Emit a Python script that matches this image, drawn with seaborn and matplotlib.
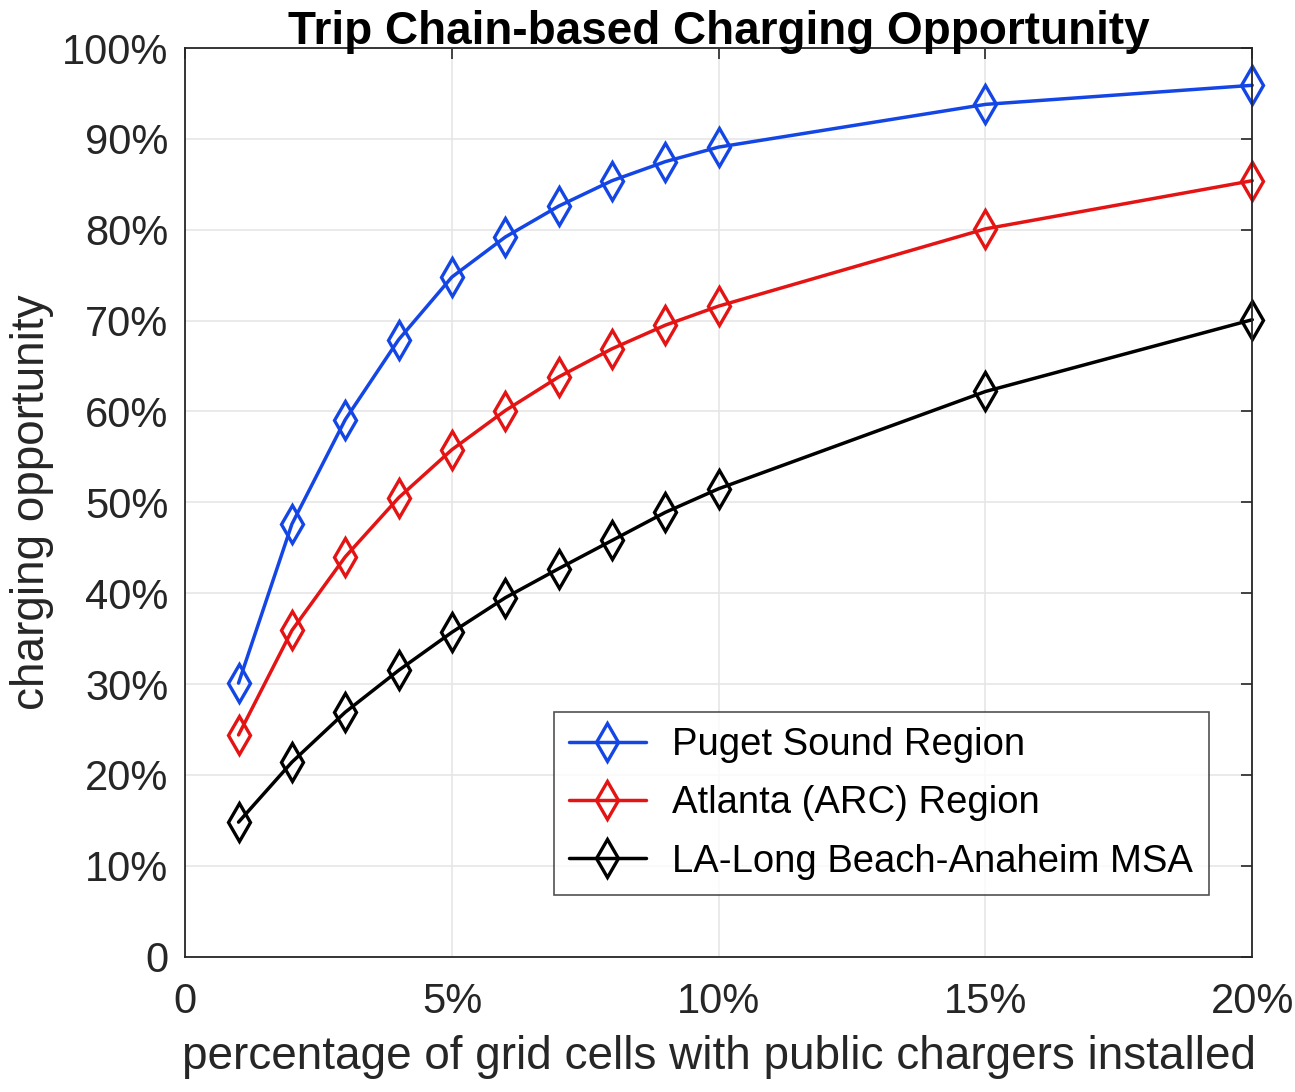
import matplotlib
matplotlib.use("Agg")
import matplotlib.pyplot as plt
import seaborn as sns
import pandas as pd
from matplotlib.ticker import FuncFormatter

# data (percent)
pct_cells = [1, 2, 3, 4, 5, 6, 7, 8, 9, 10, 15, 20]
puget = [30.1, 47.6, 59.1, 67.9, 74.8, 79.2, 82.6, 85.4, 87.5, 89.1, 93.8, 95.9]
atlanta = [24.4, 35.9, 44.0, 50.5, 55.8, 60.1, 63.8, 66.9, 69.5, 71.6, 80.1, 85.4]
la = [14.8, 21.4, 26.9, 31.5, 35.7, 39.5, 42.7, 45.8, 48.9, 51.5, 62.2, 70.1]
regions = ["Puget Sound Region", "Atlanta (ARC) Region", "LA-Long Beach-Anaheim MSA"]
colors = ["#1446e6", "#e41414", "#000000"]

df = pd.DataFrame({
    "x": pct_cells * 3,
    "y": puget + atlanta + la,
    "region": [regions[0]] * 12 + [regions[1]] * 12 + [regions[2]] * 12,
})

sns.set_style("white")
plt.rcParams["font.family"] = ["Liberation Sans", "DejaVu Sans"]

fig, ax = plt.subplots(figsize=(12.95, 10.92), dpi=100)
fig.subplots_adjust(left=0.143, right=0.967, top=0.956, bottom=0.124)

sns.lineplot(data=df, x="x", y="y", hue="region", hue_order=regions,
             palette=colors, marker="d", markersize=19, markerfacecolor="none",
             markeredgewidth=2.4, linewidth=2.5, legend=False, ax=ax)
for ln, c in zip(ax.lines, colors):
    ln.set_markeredgecolor(c)
    ln.set_clip_on(False)

ax.set_xlim(0, 20)
ax.set_ylim(0, 100)
ax.set_xticks([0, 5, 10, 15, 20])
ax.set_yticks(range(0, 101, 10))
pfmt = FuncFormatter(lambda v, p: "0" if v == 0 else f"{v:.0f}%")
ax.xaxis.set_major_formatter(pfmt)
ax.yaxis.set_major_formatter(pfmt)
ax.tick_params(direction="in", length=8, width=1.2, labelsize=30,
               colors="#262626", top=True, right=True, pad=12)
ax.tick_params(axis="x", pad=18)
ax.grid(True, color="#e6e6e6", linewidth=1.2)
for s in ax.spines.values():
    s.set_visible(True)
    s.set_color("#262626")
    s.set_linewidth(1.3)

ax.set_xlabel("percentage of grid cells with public chargers installed",
              fontsize=33, color="#262626", labelpad=10)
ax.set_ylabel("charging opportunity", fontsize=33, color="#262626", labelpad=6)
ax.set_title("Trip Chain-based Charging Opportunity", fontsize=33,
             fontweight="bold", color="black", pad=3)

leg = ax.legend(ax.lines[:3], regions, loc="lower right",
                bbox_to_anchor=(0.959, 0.068), borderaxespad=0, fontsize=27.5,
                frameon=True, fancybox=False, edgecolor="#262626",
                handlelength=2.0, handletextpad=0.7, borderpad=0.4,
                labelspacing=0.58)
leg.get_frame().set_linewidth(1.2)
for t in leg.get_texts():
    t.set_color("black")

fig.savefig("out.png", dpi=100)
